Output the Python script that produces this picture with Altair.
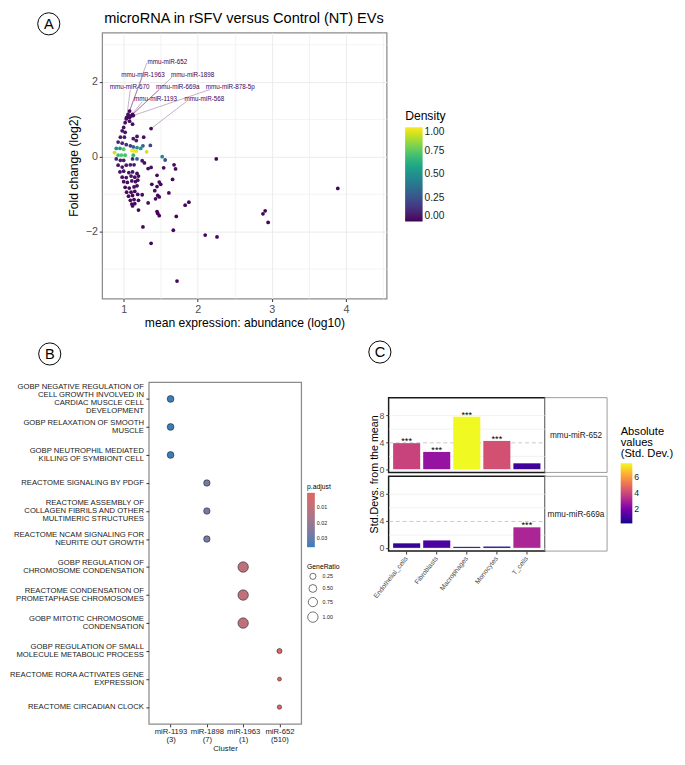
import altair as alt
import pandas as pd

FONT = "Liberation Sans"

# ---------------- Panel A: MA plot values ----------------
ma_x = [1.035, 1.02, 1.08, 1.12, 1.00, 0.98, 1.02, 0.956, 1.01, 1.18, 1.13, 1.17, 1.27,
        0.925, 0.98, 1.035, 1.09, 1.13, 1.26, 1.36, 1.18, 0.90, 0.95, 1.23, 1.00,
        1.11, 1.14, 1.17, 1.31, 0.877, 0.925, 0.97, 1.02, 1.13,
        0.90, 0.956, 1.00, 1.12, 1.18, 1.52, 1.56, 2.25,
        0.925, 0.98, 1.035, 1.09, 1.14, 1.25, 1.28, 1.37, 1.33, 1.54, 1.68, 1.70,
        0.95, 1.00, 1.07, 1.12, 1.18, 0.98, 1.035, 1.10, 1.15, 1.20, 1.45, 1.66,
        1.00, 1.05, 1.11, 1.16, 1.19, 1.38, 1.48, 1.50,
        1.02, 1.075, 1.14, 1.18, 1.45, 1.04, 1.10, 1.15, 1.42, 1.61,
        1.065, 1.12, 1.19, 1.25, 1.46, 1.48, 1.09, 1.14, 1.20, 1.43,
        1.11, 1.15, 1.33, 1.12, 1.83, 1.88, 1.20, 1.45, 1.46, 1.48, 1.71,
        2.88, 2.91, 2.95, 1.26, 1.67, 2.10, 2.26, 1.37, 1.72, 3.89]
ma_y = [1.01, 0.91, 0.95, 0.87, 0.78, 0.69, 0.65, 0.52, 0.52, 0.54, 0.48, 0.43, 0.52,
        0.39, 0.36, 0.32, 0.29, 0.26, 0.29, 0.30, 0.24, 0.22, 0.22, 0.22, 0.20,
        0.16, 0.155, 0.15, 0.13, 0.11, 0.04, 0.04, 0.04, 0.04,
        -0.06, -0.10, -0.10, -0.06, -0.06, 0.00, -0.09, -0.06,
        -0.23, -0.28, -0.23, -0.22, -0.22, -0.11, -0.17, -0.29, -0.32, -0.30, -0.22, -0.33,
        -0.41, -0.39, -0.43, -0.41, -0.45, -0.55, -0.56, -0.52, -0.55, -0.52, -0.50, -0.61,
        -0.67, -0.69, -0.65, -0.67, -0.63, -0.74, -0.68, -0.74,
        -0.82, -0.84, -0.81, -0.78, -0.80, -0.95, -0.95, -0.93, -0.91, -0.97,
        -1.06, -1.04, -1.01, -1.02, -1.04, -1.08, -1.17, -1.15, -1.17, -1.13,
        -1.27, -1.26, -1.24, -1.32, -1.30, -1.22, -1.43, -1.47, -1.52, -1.58, -1.60,
        -1.53, -1.45, -1.76, -1.88, -1.97, -2.10, -2.15, -2.32, -3.33, -0.85]
ma_density = [0.03, 0.03, 0.03, 0.03, 0.04, 0.04, 0.05, 0.05, 0.06, 0.04, 0.06, 0.06, 0.03,
              0.08, 0.10, 0.12, 0.15, 0.30, 0.28, 0.20, 0.50, 0.48, 0.52, 0.50, 0.72,
              1.00, 0.98, 0.97, 0.93, 0.92, 0.70, 0.74, 0.70, 0.66,
              0.10, 0.08, 0.08, 0.12, 0.30, 0.45, 0.22, 0.02,
              0.05, 0.05, 0.06, 0.06, 0.06, 0.05, 0.04, 0.03, 0.03, 0.02, 0.02, 0.02,
              0.04, 0.04, 0.04, 0.04, 0.03, 0.03, 0.03, 0.03, 0.03, 0.03, 0.02, 0.02,
              0.03, 0.03, 0.03, 0.03, 0.03, 0.02, 0.02, 0.02,
              0.02, 0.02, 0.02, 0.02, 0.02, 0.02, 0.02, 0.02, 0.02, 0.02,
              0.02, 0.02, 0.02, 0.02, 0.02, 0.02, 0.02, 0.02, 0.02, 0.02,
              0.02, 0.02, 0.02, 0.02, 0.01, 0.01, 0.01, 0.01, 0.01, 0.01, 0.01,
              0.01, 0.01, 0.01, 0.01, 0.01, 0.01, 0.01, 0.01, 0.01, 0.01]

lab_names = ["mmu-miR-652", "mmu-miR-1963", "mmu-miR-1898", "mmu-miR-670",
             "mmu-miR-669a", "mmu-miR-878-5p", "mmu-miR-1193", "mmu-miR-568"]
lab_pt_x = [1.08, 1.06, 1.12, 1.04, 1.10, 1.13, 1.08, 1.37]
lab_pt_y = [1.22, 1.13, 1.13, 1.05, 1.09, 1.10, 1.05, 0.75]
lab_pt_density = [0.02, 0.02, 0.02, 0.02, 0.02, 0.02, 0.02, 0.02]
lab_text_x = [1.59, 1.26, 1.93, 1.08, 1.73, 2.44, 1.43, 2.09]
lab_text_y = [2.53, 2.19, 2.19, 1.86, 1.86, 1.86, 1.53, 1.53]
lab_seg_x = [1.31, 1.25, 1.66, 1.09, 1.48, 2.17, 1.25, 1.85]
lab_seg_y = [2.50, 2.12, 2.14, 1.79, 1.79, 1.80, 1.47, 1.48]

title_a = "microRNA in rSFV versus Control (NT) EVs"
panel_letters = ["A", "B", "C"]

# ---------------- Panel B: enrichment dot plot ----------------
clusters = ["miR-1193\n(3)", "miR-1898\n(7)", "miR-1963\n(1)", "miR-652\n(510)"]
terms = [
    "GOBP NEGATIVE REGULATION OF\nCELL GROWTH INVOLVED IN\nCARDIAC MUSCLE CELL\nDEVELOPMENT",
    "GOBP RELAXATION OF SMOOTH\nMUSCLE",
    "GOBP NEUTROPHIL MEDIATED\nKILLING OF SYMBIONT CELL",
    "REACTOME SIGNALING BY PDGF",
    "REACTOME ASSEMBLY OF\nCOLLAGEN FIBRILS AND OTHER\nMULTIMERIC STRUCTURES",
    "REACTOME NCAM SIGNALING FOR\nNEURITE OUT GROWTH",
    "GOBP REGULATION OF\nCHROMOSOME CONDENSATION",
    "REACTOME CONDENSATION OF\nPROMETAPHASE CHROMOSOMES",
    "GOBP MITOTIC CHROMOSOME\nCONDENSATION",
    "GOBP REGULATION OF SMALL\nMOLECULE METABOLIC PROCESS",
    "REACTOME RORA ACTIVATES GENE\nEXPRESSION",
    "REACTOME CIRCADIAN CLOCK",
]
term_cluster = [clusters[0]] * 3 + [clusters[1]] * 3 + [clusters[2]] * 3 + [clusters[3]] * 3
p_adjust = [0.0352, 0.0352, 0.0352, 0.0275, 0.0275, 0.0275,
            0.0105, 0.0105, 0.0105, 0.0012, 0.0006, 0.0009]
gene_ratio = [0.333, 0.333, 0.333, 0.286, 0.286, 0.286,
              1.0, 1.0, 1.0, 0.12, 0.01, 0.05]

# ---------------- Panel C: cell-type bars ----------------
cell_types = ["Endothelial_cells", "Fibroblasts", "Macrophages", "Monocytes", "T_cells"]
mirnas_c = ["mmu-miR-652", "mmu-miR-669a"]
sd_652 = [3.86, 2.56, 7.76, 4.19, 0.87]
sd_669a = [0.67, 1.10, 0.15, 0.19, 3.04]
sig_652 = ["***", "***", "***", "***", ""]
sig_669a = ["", "", "", "", "***"]
c_ytitle = "Std.Devs. from the mean"
c_legend_title = ["Absolute", "values", "\u00a0(Std. Dev.)"]


def cond(test, a, b):
    return {"condition": {"test": test, "value": a}, "value": b}


# ================= Panel A =================
df_a = pd.DataFrame({"mean_expr": ma_x + lab_pt_x,
                     "fold_change": ma_y + lab_pt_y,
                     "density": ma_density + lab_pt_density})
df_lab = pd.DataFrame({"name": lab_names, "tx": lab_text_x, "ty": lab_text_y,
                       "sx": lab_seg_x, "sy": lab_seg_y, "px": lab_pt_x, "py": lab_pt_y})

xA = alt.Scale(domain=[0.71, 4.55], nice=False, zero=False)
yA = alt.Scale(domain=[-3.8, 3.32], nice=False, zero=False)
axA_x = alt.Axis(title="mean expression: abundance (log10)",
                 values=[1, 1.5, 2, 2.5, 3, 3.5, 4, 4.5],
                 labelExpr="datum.value % 1 === 0 ? format(datum.value, 'd') : ''",
                 tickOpacity=cond("datum.value % 1 === 0", 1, 0),
                 gridWidth=cond("datum.value % 1 === 0", 1, 0.6),
                 gridColor="#EBEBEB", domain=False, tickColor="#333333", tickSize=3,
                 labelColor="#4D4D4D", labelFontSize=11, labelPadding=2,
                 titleFontSize=12.5, titleFontWeight="normal", titleColor="black",
                 titlePadding=3)
axA_y = alt.Axis(title="Fold change (log2)",
                 values=[-3, -2, -1, 0, 1, 2, 3],
                 labelExpr="datum.value % 2 === 0 ? format(datum.value, 'd') : ''",
                 tickOpacity=cond("datum.value % 2 === 0", 1, 0),
                 gridWidth=cond("datum.value % 2 === 0", 1, 0.6),
                 gridColor="#EBEBEB", domain=False, tickColor="#333333", tickSize=3,
                 labelColor="#4D4D4D", labelFontSize=11, labelPadding=2,
                 titleFontSize=12.5, titleFontWeight="normal", titleColor="black",
                 titlePadding=5)

pts_a = alt.Chart(df_a).mark_circle(size=15, opacity=1).encode(
    x=alt.X("mean_expr:Q", scale=xA, axis=axA_x),
    y=alt.Y("fold_change:Q", scale=yA, axis=axA_y),
    color=alt.Color("density:Q",
                    scale=alt.Scale(scheme="viridis", domain=[0, 1]),
                    legend=alt.Legend(title="Density", orient="none", legendX=312, legendY=80,
                                      titleFontSize=12.5, titleFontWeight="normal",
                                      titleColor="black", titlePadding=5,
                                      labelFontSize=10.5, labelColor="#222222",
                                      gradientLength=97, gradientThickness=18,
                                      values=[0, 0.25, 0.5, 0.75, 1], format=".2f",
                                      labelOverlap=False)),
)
segs_a = alt.Chart(df_lab).mark_rule(color="#440154", opacity=0.4, strokeWidth=0.8).encode(
    x=alt.X("sx:Q", scale=xA, axis=axA_x),
    y=alt.Y("sy:Q", scale=yA, axis=axA_y),
    x2="px:Q", y2="py:Q")
labs_a = alt.Chart(df_lab).mark_text(color="#440154", fontSize=6.5).encode(
    x=alt.X("tx:Q", scale=xA, axis=axA_x),
    y=alt.Y("ty:Q", scale=yA, axis=axA_y),
    text="name:N")

let_a = alt.Chart(pd.DataFrame({"t": [panel_letters[0]], "title": [title_a]}))
circ_a = let_a.mark_point(shape="circle", size=520, filled=False, color="black",
                          strokeWidth=1, opacity=1).encode(x=alt.value(-55), y=alt.value(-9))
txt_a = let_a.mark_text(fontSize=15, color="black").encode(
    x=alt.value(-55), y=alt.value(-9), text="t:N")
ttl_a = let_a.mark_text(fontSize=15, color="black", align="left",
                        baseline="alphabetic").encode(
    x=alt.value(2), y=alt.value(-10), text="title:N")

chart_a = alt.layer(segs_a, pts_a, labs_a, circ_a, txt_a, ttl_a).properties(
    width=293, height=274,
    view=alt.ViewBackground(stroke="#8C8C8C", strokeWidth=1.3),
)

# ================= Panel B =================
df_b = pd.DataFrame({"term": terms, "cluster": term_cluster,
                     "p_adjust": p_adjust, "gene_ratio": gene_ratio})
xB = alt.Scale(type="point", padding=0.6)
yB = alt.Scale(type="point", padding=0.6)
axB_x = alt.Axis(title="Cluster", labelExpr="split(datum.label, '\\n')", labelAngle=0,
                 labelFontSize=7.9, labelLineHeight=8.5, labelColor="#1A1A1A",
                 labelBaseline="top", labelPadding=1, tickSize=3, tickColor="#333333",
                 domain=False, gridColor="#EBEBEB", titleFontSize=8,
                 titleFontWeight="normal", titleColor="#1A1A1A", titlePadding=1)
axB_y = alt.Axis(title=None, labels=False, tickSize=3, tickColor="#333333",
                 domain=False, gridColor="#EBEBEB")

pts_b = alt.Chart(df_b).transform_calculate(neg_p="-datum.p_adjust").mark_circle(
    opacity=1, stroke="#222222", strokeWidth=0.6).encode(
    x=alt.X("cluster:N", sort=clusters, scale=xB, axis=axB_x),
    y=alt.Y("term:N", sort=terms, scale=yB, axis=axB_y),
    color=alt.Color("neg_p:Q",
                    scale=alt.Scale(domain=[-0.0357, -0.0006], range=["#327eba", "#e06663"],
                                    interpolate="lab"),
                    legend=alt.Legend(title="p.adjust", orient="none", legendX=163, legendY=104,
                                      titleFontSize=7, titleFontWeight="normal",
                                      titleColor="black", titlePadding=3,
                                      gradientLength=56, gradientThickness=8,
                                      values=[-0.03, -0.02, -0.01],
                                      labelExpr="format(-datum.value, '.2f')",
                                      labelFontSize=5.5, labelColor="#222222",
                                      labelOverlap=False)),
    size=alt.Size("gene_ratio:Q",
                  scale=alt.Scale(domain=[0, 1], range=[15, 115], zero=False),
                  legend=alt.Legend(title="GeneRatio", orient="none", legendX=163, legendY=186,
                                    titleFontSize=7, titleFontWeight="normal",
                                    titleColor="black", titlePadding=3,
                                    values=[0.25, 0.5, 0.75, 1.0], format=".2f",
                                    labelFontSize=5.5, labelColor="#222222",
                                    symbolFillColor="white", symbolStrokeColor="#333333",
                                    symbolStrokeWidth=0.7, rowPadding=2)),
)

# term labels, one row per printed line, centred on the tick
line_rows = {"term": [], "line": [], "k": [], "n": []}
for t in terms:
    parts = t.split("\n")
    for k, p in enumerate(parts):
        line_rows["term"].append(t)
        line_rows["line"].append(p)
        line_rows["k"].append(k)
        line_rows["n"].append(len(parts))
df_lines = pd.DataFrame(line_rows)
LH = 8.5
label_layers = []
for n in sorted(set(line_rows["n"])):
    for k in range(n):
        label_layers.append(
            alt.Chart(df_lines).transform_filter(
                f"datum.n === {n} && datum.k === {k}").mark_text(
                align="right", baseline="middle", fontSize=7.9, color="#1A1A1A",
                dy=(k - (n - 1) / 2) * LH).encode(
                x=alt.value(-5),
                y=alt.Y("term:N", sort=terms, scale=yB, axis=axB_y),
                text="line:N"))

let_b = alt.Chart(pd.DataFrame({"t": [panel_letters[1]]}))
circ_b = let_b.mark_point(shape="circle", size=520, filled=False, color="black",
                          strokeWidth=1, opacity=1).encode(x=alt.value(-102), y=alt.value(-29))
txt_b = let_b.mark_text(fontSize=15, color="black").encode(
    x=alt.value(-102), y=alt.value(-29), text="t:N")
let_c = alt.Chart(pd.DataFrame({"t": [panel_letters[2]]}))
circ_c = let_c.mark_point(shape="circle", size=520, filled=False, color="black",
                          strokeWidth=1, opacity=1).encode(x=alt.value(238), y=alt.value(-31))
txt_c = let_c.mark_text(fontSize=15, color="black").encode(
    x=alt.value(238), y=alt.value(-31), text="t:N")

chart_b = alt.layer(pts_b, *label_layers, circ_b, txt_b, circ_c, txt_c).properties(
    width=157, height=352,
    view=alt.ViewBackground(stroke="#8C8C8C", strokeWidth=1.3),
)

# ================= Panel C =================
c_min = min(sd_652 + sd_669a)
c_max = max(sd_652 + sd_669a)
yC = alt.Scale(domain=[-0.48, 10.6], nice=False, zero=False)
xC = alt.Scale(type="band", paddingInner=0.1, paddingOuter=0.15)
axC_y = alt.Axis(title=None, values=[0, 2, 4, 6, 8],
                 labelExpr="datum.value % 4 === 0 ? datum.label : ''",
                 tickOpacity=cond("datum.value % 4 === 0", 1, 0),
                 gridDash=cond("datum.value === 4", [4, 3], []),
                 gridColor=cond("datum.value === 4", "#C8C8C8", "#F2F2F2"),
                 domain=False, tickColor="#333333", tickSize=3,
                 labelColor="#4D4D4D", labelFontSize=9, labelPadding=2)
axC_x = alt.Axis(title=None, labelAngle=-52, labelAlign="right", labelBaseline="middle",
                 labelFontSize=7, labelColor="#4D4D4D", labelPadding=3,
                 domain=False, tickColor="#333333", tickSize=3, grid=False)


def c_panel(values, sig, name, show_x, show_legend, extra):
    df = pd.DataFrame({"cell": cell_types, "sd": values, "sig": sig})
    xenc = alt.X("cell:N", sort=cell_types, scale=xC, axis=axC_x if show_x else None)
    if show_legend:
        leg = alt.Legend(title=c_legend_title, orient="none",
                         legendX=239, legendY=29, titleFontSize=11.5,
                         titleFontWeight="normal", titleColor="black", titleLineHeight=11.5,
                         titlePadding=4, gradientLength=62, gradientThickness=12,
                         values=[2, 4, 6], labelFontSize=9, labelColor="#222222")
    else:
        leg = None
    bars = alt.Chart(df).mark_bar().encode(
        x=xenc,
        y=alt.Y("sd:Q", scale=yC, axis=axC_y),
        color=alt.Color("sd:Q", scale=alt.Scale(scheme="plasma", domain=[c_min, c_max]),
                        legend=leg),
    )
    stars = alt.Chart(df).mark_text(fontSize=9.5, baseline="alphabetic", dy=1,
                                    color="black").encode(
        x=xenc, y=alt.Y("sd:Q", scale=yC, axis=axC_y), text="sig:N")
    sdf = alt.Chart(pd.DataFrame({"mirna": [name]}))
    strip = sdf.mark_rect(fill="white", stroke="#999999", strokeWidth=1).encode(
        x=alt.value(161), x2=alt.value(225), y=alt.value(0), y2=alt.value(77))
    strip_txt = sdf.mark_text(fontSize=8.5, color="#1A1A1A").encode(
        x=alt.value(193), y=alt.value(38.5), text="mirna:N")
    layers = [bars, stars, strip, strip_txt] + extra
    return alt.layer(*layers).properties(
        width=161, height=77,
        view=alt.ViewBackground(stroke="#1A1A1A", strokeWidth=1.5))


ytit = alt.Chart(pd.DataFrame({"t": [c_ytitle]})).mark_text(
    fontSize=11, angle=270, color="black").encode(
    x=alt.value(-14), y=alt.value(79), text="t:N")

c1 = c_panel(sd_652, sig_652, mirnas_c[0], False, True, [ytit])
c2 = c_panel(sd_669a, sig_669a, mirnas_c[1], True, False, [])


def spacer(w, h):
    return alt.Chart(pd.DataFrame({"s": [0]})).mark_point(opacity=0).encode(
        x=alt.value(0), y=alt.value(0)).properties(
        width=w, height=h, view=alt.ViewBackground(stroke="transparent"))


ccol = alt.vconcat(spacer(10, 12), c1, c2, spacing=4, bounds="flush").resolve_scale(
    color="independent")
inner = alt.hconcat(chart_b, ccol, spacing=90, bounds="flush").resolve_scale(
    color="independent", size="independent")
row2 = alt.hconcat(spacer(48, 10), inner, spacing=0, bounds="flush").resolve_scale(
    color="independent", size="independent")
chart = alt.vconcat(chart_a, row2, spacing=86, bounds="flush").resolve_scale(
    color="independent", size="independent").properties(
    padding={"left": 0, "top": -10, "right": 2, "bottom": 0}
).configure(font=FONT).configure_view(stroke="#8C8C8C")

chart.save("out.html", embed_options={"renderer": "svg", "actions": False})
